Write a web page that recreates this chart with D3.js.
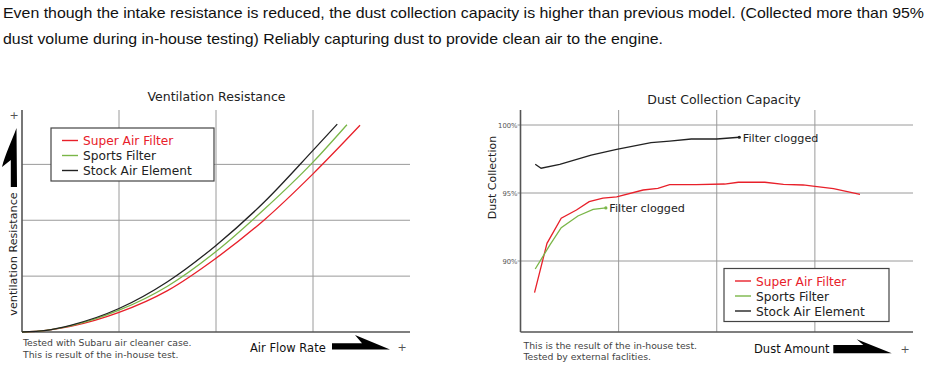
<!DOCTYPE html>
<html><head><meta charset="utf-8">
<script src="https://cdn.jsdelivr.net/npm/d3@7"></script>
<style>body{margin:0;background:#fff}svg{display:block}</style>
</head><body>
<svg id="c" width="932" height="369"></svg>
<script>
// ---------- data ----------
const headerLines = [
  "Even though the intake resistance is reduced, the dust collection capacity is higher than previous model. (Collected more than 95%",
  "dust volume during in-house testing) Reliably capturing dust to provide clean air to the engine."
];
const seriesNames = ["Super Air Filter", "Sports Filter", "Stock Air Element"];
const seriesColors = ["#e8202a", "#7ab648", "#222222"];

// Ventilation resistance (arbitrary units, 0..4 both axes)
const ventX = [0, 0.25, 0.5, 1, 1.5, 2, 2.5, 3];
const ventSuper = [0, 0.03, 0.10, 0.35, 0.74, 1.32, 2.01, 2.83];
const ventSports = [0, 0.03, 0.11, 0.39, 0.82, 1.44, 2.20, 3.04];
const ventStock = [0, 0.03, 0.12, 0.42, 0.90, 1.55, 2.33, 3.25];
const ventEnd = [[3.485, 3.70], [3.35, 3.71], [3.25, 3.72]];

// Dust collection (%)
const dustSuperX = [0.143, 0.27, 0.415, 0.57, 0.70, 0.84, 0.98, 1.25, 1.40, 1.52, 1.79, 2.08, 2.22, 2.49, 2.68, 2.88, 2.98, 3.19, 3.46];
const dustSuperY = [87.67, 91.30, 93.14, 93.75, 94.36, 94.63, 94.71, 95.22, 95.34, 95.61, 95.61, 95.66, 95.79, 95.79, 95.64, 95.59, 95.51, 95.32, 94.90];
const dustSportsX = [0.15, 0.30, 0.415, 0.585, 0.74, 0.87];
const dustSportsY = [89.41, 91.18, 92.45, 93.31, 93.80, 93.90];
const dustStockX = [0.15, 0.21, 0.40, 0.72, 0.98, 1.33, 1.52, 1.74, 2.0, 2.23];
const dustStockY = [97.11, 96.82, 97.11, 97.79, 98.21, 98.70, 98.82, 98.97, 98.97, 99.10];
const dustTicks = [90, 95, 100];
const dustTickLabels = ["90%", "95%", "100%"];

// ---------- drawing ----------
const svg = d3.select("#c");
const FONT = "'DejaVu Sans', Verdana, sans-serif";
const GRID = "#9a9a9a", AXIS = "#555";

// header
const hdrWidths = [921, 660];
headerLines.forEach((t, i) => {
  svg.append("text").attr("x", 3).attr("y", 18 + i * 25.5)
    .attr("font-family", "'Liberation Sans', Arial, sans-serif").attr("font-size", 14.2)
    .attr("fill", "#111").attr("textLength", hdrWidths[i]).attr("lengthAdjust", "spacingAndGlyphs")
    .text(t);
});

function legend(g, x, y, w, h) {
  g.append("rect").attr("x", x).attr("y", y).attr("width", w).attr("height", h)
    .attr("fill", "#fff").attr("stroke", "#444").attr("stroke-width", 1.2);
  seriesNames.forEach((n, i) => {
    const yy = y + 12.5 + i * 15;
    g.append("line").attr("x1", x + 11).attr("x2", x + 27).attr("y1", yy).attr("y2", yy)
      .attr("stroke", seriesColors[i]).attr("stroke-width", 1.4);
    g.append("text").attr("x", x + 32).attr("y", yy + 4.5).attr("font-family", FONT)
      .attr("font-size", 12.2).attr("fill", i === 0 ? seriesColors[0] : "#222").text(n);
  });
}

// ===== Left chart =====
const xL = d3.scaleLinear().domain([0, 4]).range([22, 410]);
const yL = d3.scaleLinear().domain([0, 4]).range([332, 108.5]);
const gL = svg.append("g");
[1, 2, 3].forEach(v => {
  gL.append("line").attr("x1", xL(v)).attr("x2", xL(v)).attr("y1", 110).attr("y2", yL(0)).attr("stroke", GRID).attr("stroke-width", 1);
  gL.append("line").attr("x1", xL(0)).attr("x2", xL(4)).attr("y1", yL(v)).attr("y2", yL(v)).attr("stroke", GRID).attr("stroke-width", 1);
});
gL.append("line").attr("x1", xL(0)).attr("x2", xL(4)).attr("y1", yL(0)).attr("y2", yL(0)).attr("stroke", AXIS).attr("stroke-width", 1.3);
gL.append("line").attr("x1", xL(0)).attr("x2", xL(0)).attr("y1", 110).attr("y2", yL(0)).attr("stroke", AXIS).attr("stroke-width", 1.6);

const lineL = d3.line().x(d => xL(d[0])).y(d => yL(d[1])).curve(d3.curveMonotoneX);
[ventSuper, ventSports, ventStock].forEach((ys, i) => {
  const pts = ventX.map((x, j) => [x, ys[j]]).concat([ventEnd[i]]);
  gL.append("path").datum(pts).attr("d", lineL).attr("fill", "none")
    .attr("stroke", seriesColors[i]).attr("stroke-width", 1.3);
});
legend(gL, 51, 128, 163, 53);

gL.append("text").attr("x", 216.5).attr("y", 101).attr("text-anchor", "middle")
  .attr("font-family", FONT).attr("font-size", 12.5).attr("fill", "#222").text("Ventilation Resistance");
gL.append("text").attr("transform", "translate(17,254) rotate(-90)").attr("text-anchor", "middle")
  .attr("font-family", FONT).attr("font-size", 11.2).attr("fill", "#222").text("ventilation Resistance");
gL.append("text").attr("x", 14).attr("y", 119).attr("text-anchor", "middle")
  .attr("font-family", FONT).attr("font-size", 11).attr("fill", "#555").text("+");
gL.append("path").attr("d", "M16.5,128 L17,187 L10.8,187 L10.8,160 L2,167 C5,155 12,140 16.5,128 Z").attr("fill", "#000");
gL.append("text").attr("x", 23).attr("y", 346).attr("font-family", FONT).attr("font-size", 9.3).attr("fill", "#444")
  .text("Tested with Subaru air cleaner case.");
gL.append("text").attr("x", 23).attr("y", 358).attr("font-family", FONT).attr("font-size", 9.3).attr("fill", "#444")
  .text("This is result of the in-house test.");
gL.append("text").attr("x", 250).attr("y", 351.5).attr("font-family", FONT).attr("font-size", 11.5).attr("fill", "#111")
  .text("Air Flow Rate");
gL.append("path").attr("d", "M332,343.3 L362,343.3 L355,335 L390,349.5 L332,349.5 Z").attr("fill", "#000");
gL.append("text").attr("x", 402).attr("y", 351).attr("text-anchor", "middle")
  .attr("font-family", FONT).attr("font-size", 11).attr("fill", "#555").text("+");

// ===== Right chart =====
const xR = d3.scaleLinear().domain([0, 4]).range([520.5, 913]);
const yR = d3.scaleLinear().domain([90, 100]).range([261, 125]);
const gR = svg.append("g");
[1, 2, 3].forEach(v => {
  gR.append("line").attr("x1", xR(v)).attr("x2", xR(v)).attr("y1", 110).attr("y2", 332).attr("stroke", GRID).attr("stroke-width", 1);
});
dustTicks.forEach((t, i) => {
  gR.append("line").attr("x1", xR(0) - 3).attr("x2", xR(4)).attr("y1", yR(t)).attr("y2", yR(t)).attr("stroke", GRID).attr("stroke-width", 1);
  gR.append("text").attr("x", xR(0) - 3).attr("y", yR(t) + 2.5).attr("text-anchor", "end")
    .attr("font-family", FONT).attr("font-size", 6.8).attr("fill", "#555").text(dustTickLabels[i]);
});
gR.append("line").attr("x1", xR(0)).attr("x2", xR(4)).attr("y1", 332).attr("y2", 332).attr("stroke", AXIS).attr("stroke-width", 1.3);
gR.append("line").attr("x1", xR(0)).attr("x2", xR(0)).attr("y1", 110).attr("y2", 332).attr("stroke", AXIS).attr("stroke-width", 1.6);

const lineR = d3.line().x(d => xR(d[0])).y(d => yR(d[1]));
const dustSets = [[dustSuperX, dustSuperY], [dustSportsX, dustSportsY], [dustStockX, dustStockY]];
dustSets.forEach(([xs, ys], i) => {
  const pts = xs.map((x, j) => [x, ys[j]]);
  gR.append("path").datum(pts).attr("d", lineR).attr("fill", "none")
    .attr("stroke", seriesColors[i]).attr("stroke-width", 1.3);
  if (i > 0) {
    const last = pts[pts.length - 1];
    gR.append("circle").attr("cx", xR(last[0])).attr("cy", yR(last[1])).attr("r", 1.6).attr("fill", seriesColors[i]);
    gR.append("text").attr("x", xR(last[0]) + 3.5).attr("y", yR(last[1]) + 4.3)
      .attr("font-family", FONT).attr("font-size", 11.2).attr("fill", "#222").text("Filter clogged");
  }
});
legend(gR, 724, 268.5, 165, 53);

gR.append("text").attr("x", 724).attr("y", 104).attr("text-anchor", "middle")
  .attr("font-family", FONT).attr("font-size", 12.5).attr("fill", "#222").text("Dust Collection Capacity");
gR.append("text").attr("transform", "translate(495.5,177.5) rotate(-90)").attr("text-anchor", "middle")
  .attr("font-family", FONT).attr("font-size", 11).attr("fill", "#222").text("Dust Collection");
gR.append("text").attr("x", 523.5).attr("y", 348.5).attr("font-family", FONT).attr("font-size", 9.3).attr("fill", "#444")
  .text("This is the result of the in-house test.");
gR.append("text").attr("x", 523.5).attr("y", 359.5).attr("font-family", FONT).attr("font-size", 9.3).attr("fill", "#444")
  .text("Tested by external faclities.");
gR.append("text").attr("x", 754).attr("y", 352.5).attr("font-family", FONT).attr("font-size", 11.5).attr("fill", "#111")
  .text("Dust Amount");
gR.append("path").attr("d", "M833.3,345 L863.3,345 L856.7,339.3 L891.7,353.3 L833.3,353.3 Z").attr("fill", "#000");
gR.append("text").attr("x", 905).attr("y", 353).attr("text-anchor", "middle")
  .attr("font-family", FONT).attr("font-size", 11).attr("fill", "#555").text("+");
</script>
</body></html>
